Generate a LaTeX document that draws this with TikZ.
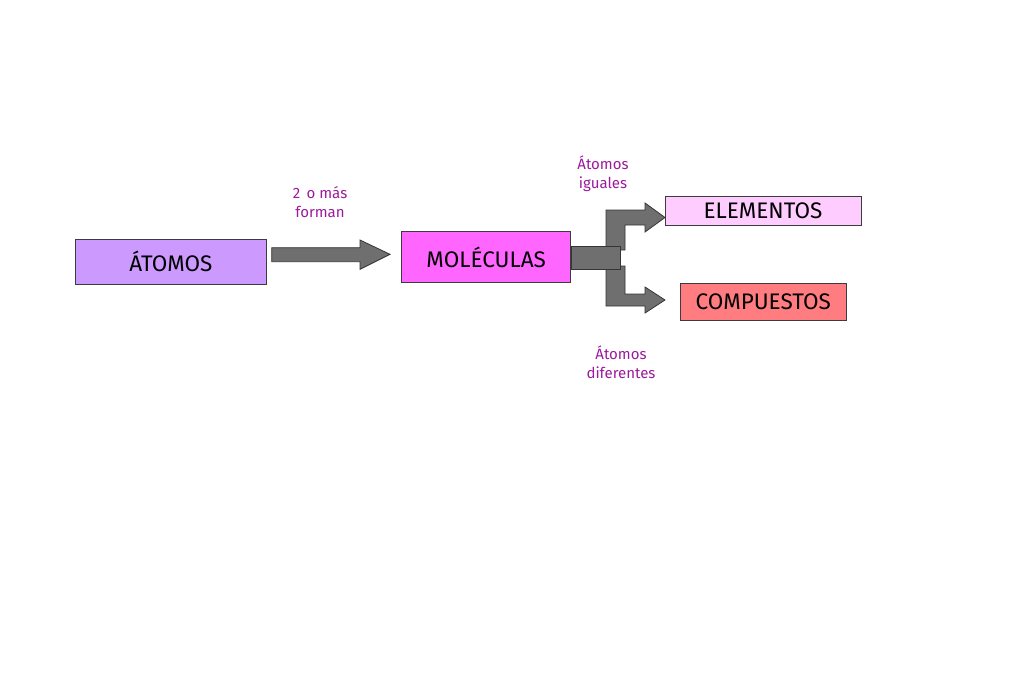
\documentclass[tikz,border=0pt]{standalone}
\usepackage{fontspec}
\setmainfont{Fira Sans}
\definecolor{atomfill}{HTML}{CC99FF}
\definecolor{molfill}{HTML}{FF66FF}
\definecolor{elemfill}{HTML}{FFCCFF}
\definecolor{compfill}{HTML}{FF7C80}
\definecolor{boxline}{HTML}{3C3C3C}
\definecolor{arrowgray}{HTML}{6F6F6F}
\definecolor{arrowline}{HTML}{363636}
\definecolor{lblcol}{HTML}{9C1A9C}
\begin{document}
\begin{tikzpicture}[x=1pt,y=-1pt,
  box/.style={draw=boxline, line width=0.9pt, inner sep=0pt, font=\fontsize{22.5}{24}\selectfont},
  lbl/.style={text=lblcol, font=\fontsize{15}{19}\selectfont, align=center, inner sep=0pt},
  blk/.style={fill=arrowgray, draw=arrowline, line width=0.8pt, line join=miter}]
\useasboundingbox (0,0) rectangle (1024,698);
\fill[white] (0,0) rectangle (1024,698);

% boxes
\node[box, fill=atomfill, minimum width=191.7pt, minimum height=45pt] (atomos) at (170.85,261.8) {ÁTOMOS};
\node[box, fill=molfill, minimum width=169pt, minimum height=51pt] (mol) at (486.2,257.2) {MOLÉCULAS};
\node[box, fill=elemfill, minimum width=196pt, minimum height=29.3pt] (elem) at (763,210.7) {ELEMENTOS};
\node[box, fill=compfill, minimum width=165.3pt, minimum height=36.7pt] (comp) at (763.3,301.7) {COMPUESTOS};

% labels
\node[lbl] (forman) at (320,202.5) {2\, o más\\forman};
\node[lbl] (iguales) at (603,173.5) {Átomos\\iguales};
\node[lbl] (diferentes) at (621,362.5) {Átomos\\diferentes};

% block arrow ATOMOS -> MOLECULAS
\draw[blk] (271.7,247.7) -- (360,247.7) -- (360,240) -- (390,254.3) -- (360,269.3)
  -- (360,261.7) -- (271.7,261.7) -- cycle;

% bent arrows
\draw[blk] (606,250) -- (606,210) -- (645,210) -- (645,203) -- (665,217.5)
  -- (645,232) -- (645,225) -- (625,225) -- (625,250) -- cycle;
\draw[blk] (606,266) -- (606,306) -- (645,306) -- (645,313) -- (665,300)
  -- (645,287) -- (645,294) -- (625,294) -- (625,266) -- cycle;
\draw[blk] (mol.east |- 0,246.7) rectangle (620.7,269);
\end{tikzpicture}
\end{document}
